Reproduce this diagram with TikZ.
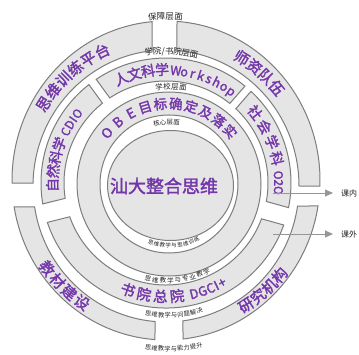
\documentclass[tikz,border=0pt]{standalone}
\usepackage{fontspec}
\newfontfamily\cjk{Noto Sans CJK SC}
\newfontfamily\cjkp[FakeBold=2]{Noto Sans CJK SC}
\usetikzlibrary{calc,arrows.meta}
\definecolor{purp}{RGB}{115,55,170}
\definecolor{ringfill}{RGB}{229,229,229}
\definecolor{ringline}{RGB}{125,125,125}
\definecolor{labgray}{RGB}{35,35,35}
\definecolor{arrgray}{RGB}{150,150,150}
\tikzset{
  seg/.style={fill=ringfill, draw=ringline, line width=1pt},
  pf/.style={text=purp, inner sep=0pt, anchor=base, font=\cjkp\fontsize{#1}{#1}\selectfont},
  gf/.style={text=labgray, inner sep=0pt, anchor=base, font=\cjk\fontsize{#1}{#1}\selectfont},
  arr/.style={draw=arrgray, line width=0.9pt, -{Triangle[length=8pt,width=7pt,fill=arrgray]}, shorten >=8pt},
}
\newcommand\slsh{/}
% center, baseline radius, rotation offset, style, start angle, step, list, prefix
\newcommand\arcstep[8]{%
  \foreach \ch [count=\i from 0] in {#7} {%
    \pgfmathsetmacro\myang{#5+\i*(#6)}%
    \pgfmathsetmacro\myrot{\myang+(#3)}%
    \node[#4, rotate=\myrot] (#8\i) at ($(#1)+(\myang:#2)$) {\ch};
  }}
% center, baseline radius, rotation offset, style, list angle/char, prefix
\newcommand\arcat[6]{%
  \foreach \myang/\ch [count=\i] in {#5} {%
    \pgfmathsetmacro\myrot{\myang+(#3)}%
    \node[#4, rotate=\myrot] (#6\i) at ($(#1)+(\myang:#2)$) {\ch};
  }}
% circular ring segment: center, rin, rout, so, eo, si, ei
\newcommand\cseg[7]{\path[seg] ($(#1)+(#4:#3)$) arc[start angle=#4, end angle=#5, radius=#3]
  -- ($(#1)+(#7:#2)$) arc[start angle=#7, end angle=#6, radius=#2] -- cycle;}
% outer elliptic ring segment: so, eo, si, ei
\newcommand\eseg[4]{\path[seg] ($(Oo)+(#1:154 and 159.5)$) arc[start angle=#1, end angle=#2, x radius=154, y radius=159.5]
  -- ($(Oi)+(#4:133 and 136)$) arc[start angle=#4, end angle=#3, x radius=133, y radius=136] -- cycle;}
\begin{document}
\begin{tikzpicture}[x=1pt,y=1pt]
\useasboundingbox (0,0) rectangle (359,354);
\fill[white] (0,0) rectangle (359,354);
\coordinate (Oo) at (166,173.5);
\coordinate (Oi) at (166,168);
\coordinate (O) at (166,173);
\coordinate (R2) at (166,171);
\coordinate (B) at (169,170);
\coordinate (C) at (170.5,168.5);

% core and OBE ring
\path[seg] (C) ellipse [x radius=63, y radius=55];
\path[seg, even odd rule] (B) circle[radius=92] (B) circle[radius=69];

% second ring (four segments)
\cseg{R2}{102}{125}{50.83}{123.94}{51.25}{123.47}
\cseg{R2}{102}{125}{128.06}{189.64}{128.53}{188.66}
\cseg{R2}{102}{125}{198.36}{340.37}{199.34}{339.44}
\cseg{R2}{102}{125}{-11.37}{47.17}{-10.44}{46.75}

% outer ring (four segments)
\eseg{276.34}{350.8}{277.34}{351.54}
\eseg{-1.98}{85.9}{0}{85.3}
\eseg{95.2}{180.9}{96.0}{178.74}
\eseg{189.56}{265.9}{188.88}{265.26}

% centre text
\node[pf=18, anchor=center] (core) at (164,168) {汕大整合思维};

% outer ring texts
\arcstep{O}{139}{-90}{pf=15}{147.7}{-6.3}{思,维,训,练,平,台}{pa}
\arcstep{O}{139}{-90}{pf=15}{58.4}{-6.1}{师,资,队,伍}{pb}
\arcstep{O}{153.2}{90}{pf=15}{-57.2}{5.83}{研,究,机,构}{pc}
\arcstep{O}{153.2}{90}{pf=15}{216.3}{6.33}{教,材,建,设}{pd}

% second ring texts
\arcstep{R2}{108.2}{-90}{pf=14}{113.2}{-7.07}{人,文,科,学}{wa}
\arcstep{R2}{108.2}{-90}{pf=12.5}{85}{-4.34}{W,o,r,k,s,h,o,p}{wb}
\arcstep{R2}{108.2}{-90}{pf=14}{38.3}{-8.6}{社,会,学,科}{sa}
\arcstep{R2}{108.2}{-90}{pf=12}{4}{-3.9}{O,2,O}{sb}
\arcstep{R2}{119}{90}{pf=14.5}{250.4}{8.4}{书,院,总,院}{da}
\arcat{R2}{119}{90}{pf=13}{284.2/D,288.7/G,293.0/C,296.2/I,299.4/+}{db}
\arcstep{R2}{108.2}{-90}{pf=14}{181}{-7}{自,然,科,学}{ca}
\arcat{R2}{108.2}{-90}{pf=12}{153/C,148.8/D,145.5/I,142/O}{cb}

% OBE ring text
\arcstep{B}{75.4}{-90}{pf=13.5}{140.5}{-11.08}{O,B,E,目,标,确,定,及,落,实}{ob}

% level labels
\arcstep{Oo}{161.3}{-90}{gf=8.5}{94.77}{-3.05}{保,障,层,面}{la}
\arcat{R2}{128.8}{-90}{gf=8.5}{97.47/学,93.87/院,91.2/\slsh,88.53/书,84.93/院,81.33/层,77.73/面}{lb}
\arcstep{B}{94.6}{-90}{gf=7.5}{95.85}{-4.7}{学,校,层,面}{lc}
\arcstep{C}{61.1}{-90}{gf=6.5}{102.72}{-6.08}{核,心,层,面}{ld}
\arcstep{C}{62.3}{90}{gf=5.5}{251}{5.6}{思,维,教,学,与,思,维,训,练}{le}
\arcstep{R2}{100}{90}{gf=6.5}{259.4}{4.4}{思,维,教,学,与,专,业,教,学}{lf}
\arcstep{R2}{134.6}{90}{gf=6.2}{262.34}{2.79}{思,维,教,学,与,问,题,解,决}{lg}
\arcstep{Oo}{170.6}{90}{gf=6.2}{263.94}{2.19}{思,维,教,学,与,能,力,提,升}{lh}

% arrows
\coordinate (kna) at (273,161);
\node[gf=8, anchor=west] (kn) at (341,161) {课内};
\draw[arr] (kna) -- (kn.west);
\coordinate (kwa) at (273,120);
\node[gf=8, anchor=west] (kw) at (341,120) {课外};
\draw[arr] (kwa) -- (kw.west);
\end{tikzpicture}
\end{document}
